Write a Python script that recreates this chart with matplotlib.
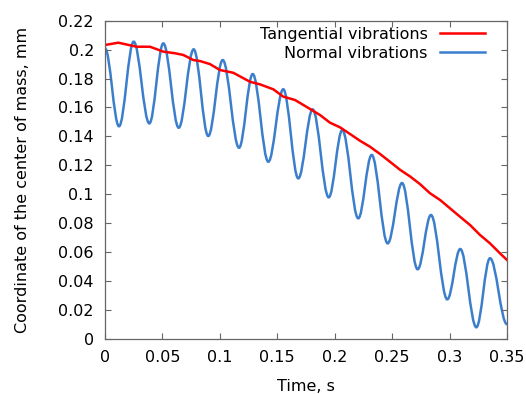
import matplotlib
matplotlib.use("Agg")
import matplotlib.pyplot as plt
from matplotlib.path import Path
from matplotlib.patches import PathPatch
from matplotlib.lines import Line2D

# tangential vibrations
tang_t = [0.0, 0.0116, 0.0276, 0.0392, 0.0508, 0.0609, 0.0682, 0.0769, 0.0827,
          0.0914, 0.1001, 0.1117, 0.1262, 0.1349, 0.1465, 0.1552, 0.1654, 0.1785,
          0.1872, 0.1959, 0.2046, 0.2133, 0.2220, 0.2307, 0.2394, 0.2481, 0.2568,
          0.2655, 0.2742, 0.2830, 0.2917, 0.3004, 0.3091, 0.3178, 0.3265, 0.3352,
          0.3439, 0.35]
tang_y = [0.2032, 0.2048, 0.2020, 0.2020, 0.1986, 0.1975, 0.1963, 0.1928, 0.1921,
          0.1900, 0.1859, 0.1840, 0.1778, 0.1760, 0.1726, 0.1675, 0.1652, 0.1590,
          0.1548, 0.1495, 0.1463, 0.1417, 0.1370, 0.1329, 0.1279, 0.1225, 0.1170,
          0.1124, 0.1071, 0.1007, 0.0961, 0.0903, 0.0845, 0.0788, 0.0719, 0.0661,
          0.0592, 0.0546]

# normal vibrations: peaks and troughs of the oscillation
norm_t = [0.0, 0.0122, 0.0250, 0.0386, 0.0508, 0.0642, 0.0772, 0.0899, 0.1025,
          0.1167, 0.1286, 0.1422, 0.1552, 0.1683, 0.1808, 0.1948, 0.2066, 0.2205,
          0.2322, 0.2461, 0.2586, 0.2722, 0.2838, 0.2980, 0.3093, 0.3233, 0.3352,
          0.35]
norm_y = [0.2009, 0.1470, 0.2055, 0.1490, 0.2043, 0.1460, 0.2002, 0.1403, 0.1928,
          0.1322, 0.1831, 0.1225, 0.1726, 0.1110, 0.1587, 0.0979, 0.1444, 0.0834,
          0.1272, 0.0661, 0.1078, 0.0482, 0.0857, 0.0274, 0.0622, 0.0081, 0.0558,
          0.0102]

xticks = [0, 0.05, 0.1, 0.15, 0.2, 0.25, 0.3, 0.35]
yticks = [0, 0.02, 0.04, 0.06, 0.08, 0.1, 0.12, 0.14, 0.16, 0.18, 0.2, 0.22]

RED = '#ff0000'
BLUE = '#3b7fcc'


def extrema_path(ts, ys, k=0.364):
    # smooth line through the extremes: one cubic bezier per half swing,
    # flat tangent at every peak/trough
    verts = [(ts[0], ys[0])]
    codes = [Path.MOVETO]
    for i in range(len(ts) - 1):
        dt = ts[i + 1] - ts[i]
        verts += [(ts[i] + k * dt, ys[i]), (ts[i + 1] - k * dt, ys[i + 1]),
                  (ts[i + 1], ys[i + 1])]
        codes += [Path.CURVE4] * 3
    return Path(verts, codes)


def fmt(v):
    return "%g" % v


plt.rcParams['font.family'] = ['DejaVu Sans']
fig = plt.figure(figsize=(5.26, 3.94), dpi=100)
ax = fig.add_axes([0.1996, 0.1396, 0.7643, 0.8079])

ax.plot(tang_t, tang_y, color=RED, lw=1.8)
ax.add_patch(PathPatch(extrema_path(norm_t, norm_y), facecolor='none',
                       edgecolor=BLUE, lw=1.8))

ax.set_xlim(0, 0.35)
ax.set_ylim(0, 0.22)
ax.set_xticks(xticks)
ax.set_xticklabels([fmt(v) for v in xticks])
ax.set_yticks(yticks)
ax.set_yticklabels([fmt(v) for v in yticks])
ax.tick_params(direction='in', length=4, width=0.8, color='#666666',
               top=True, right=True, labelsize=11.5, pad=8)
for sp in ax.spines.values():
    sp.set_color('#666666')
    sp.set_linewidth(0.9)

ax.set_xlabel('Time, s', fontsize=11.5, labelpad=10)
ax.set_ylabel('Coordinate of the center of mass, mm', fontsize=11.5, labelpad=20)

handles = [Line2D([], [], color=RED, lw=1.8), Line2D([], [], color=BLUE, lw=1.8)]
ax.legend(handles, ['Tangential vibrations', 'Normal vibrations'],
          loc='upper right', frameon=False, markerfirst=False, fontsize=11.5,
          handlelength=2.8, handletextpad=0.8, labelspacing=0.25,
          borderaxespad=0, bbox_to_anchor=(0.961, 1.0))

fig.savefig('out.png', dpi=100)
